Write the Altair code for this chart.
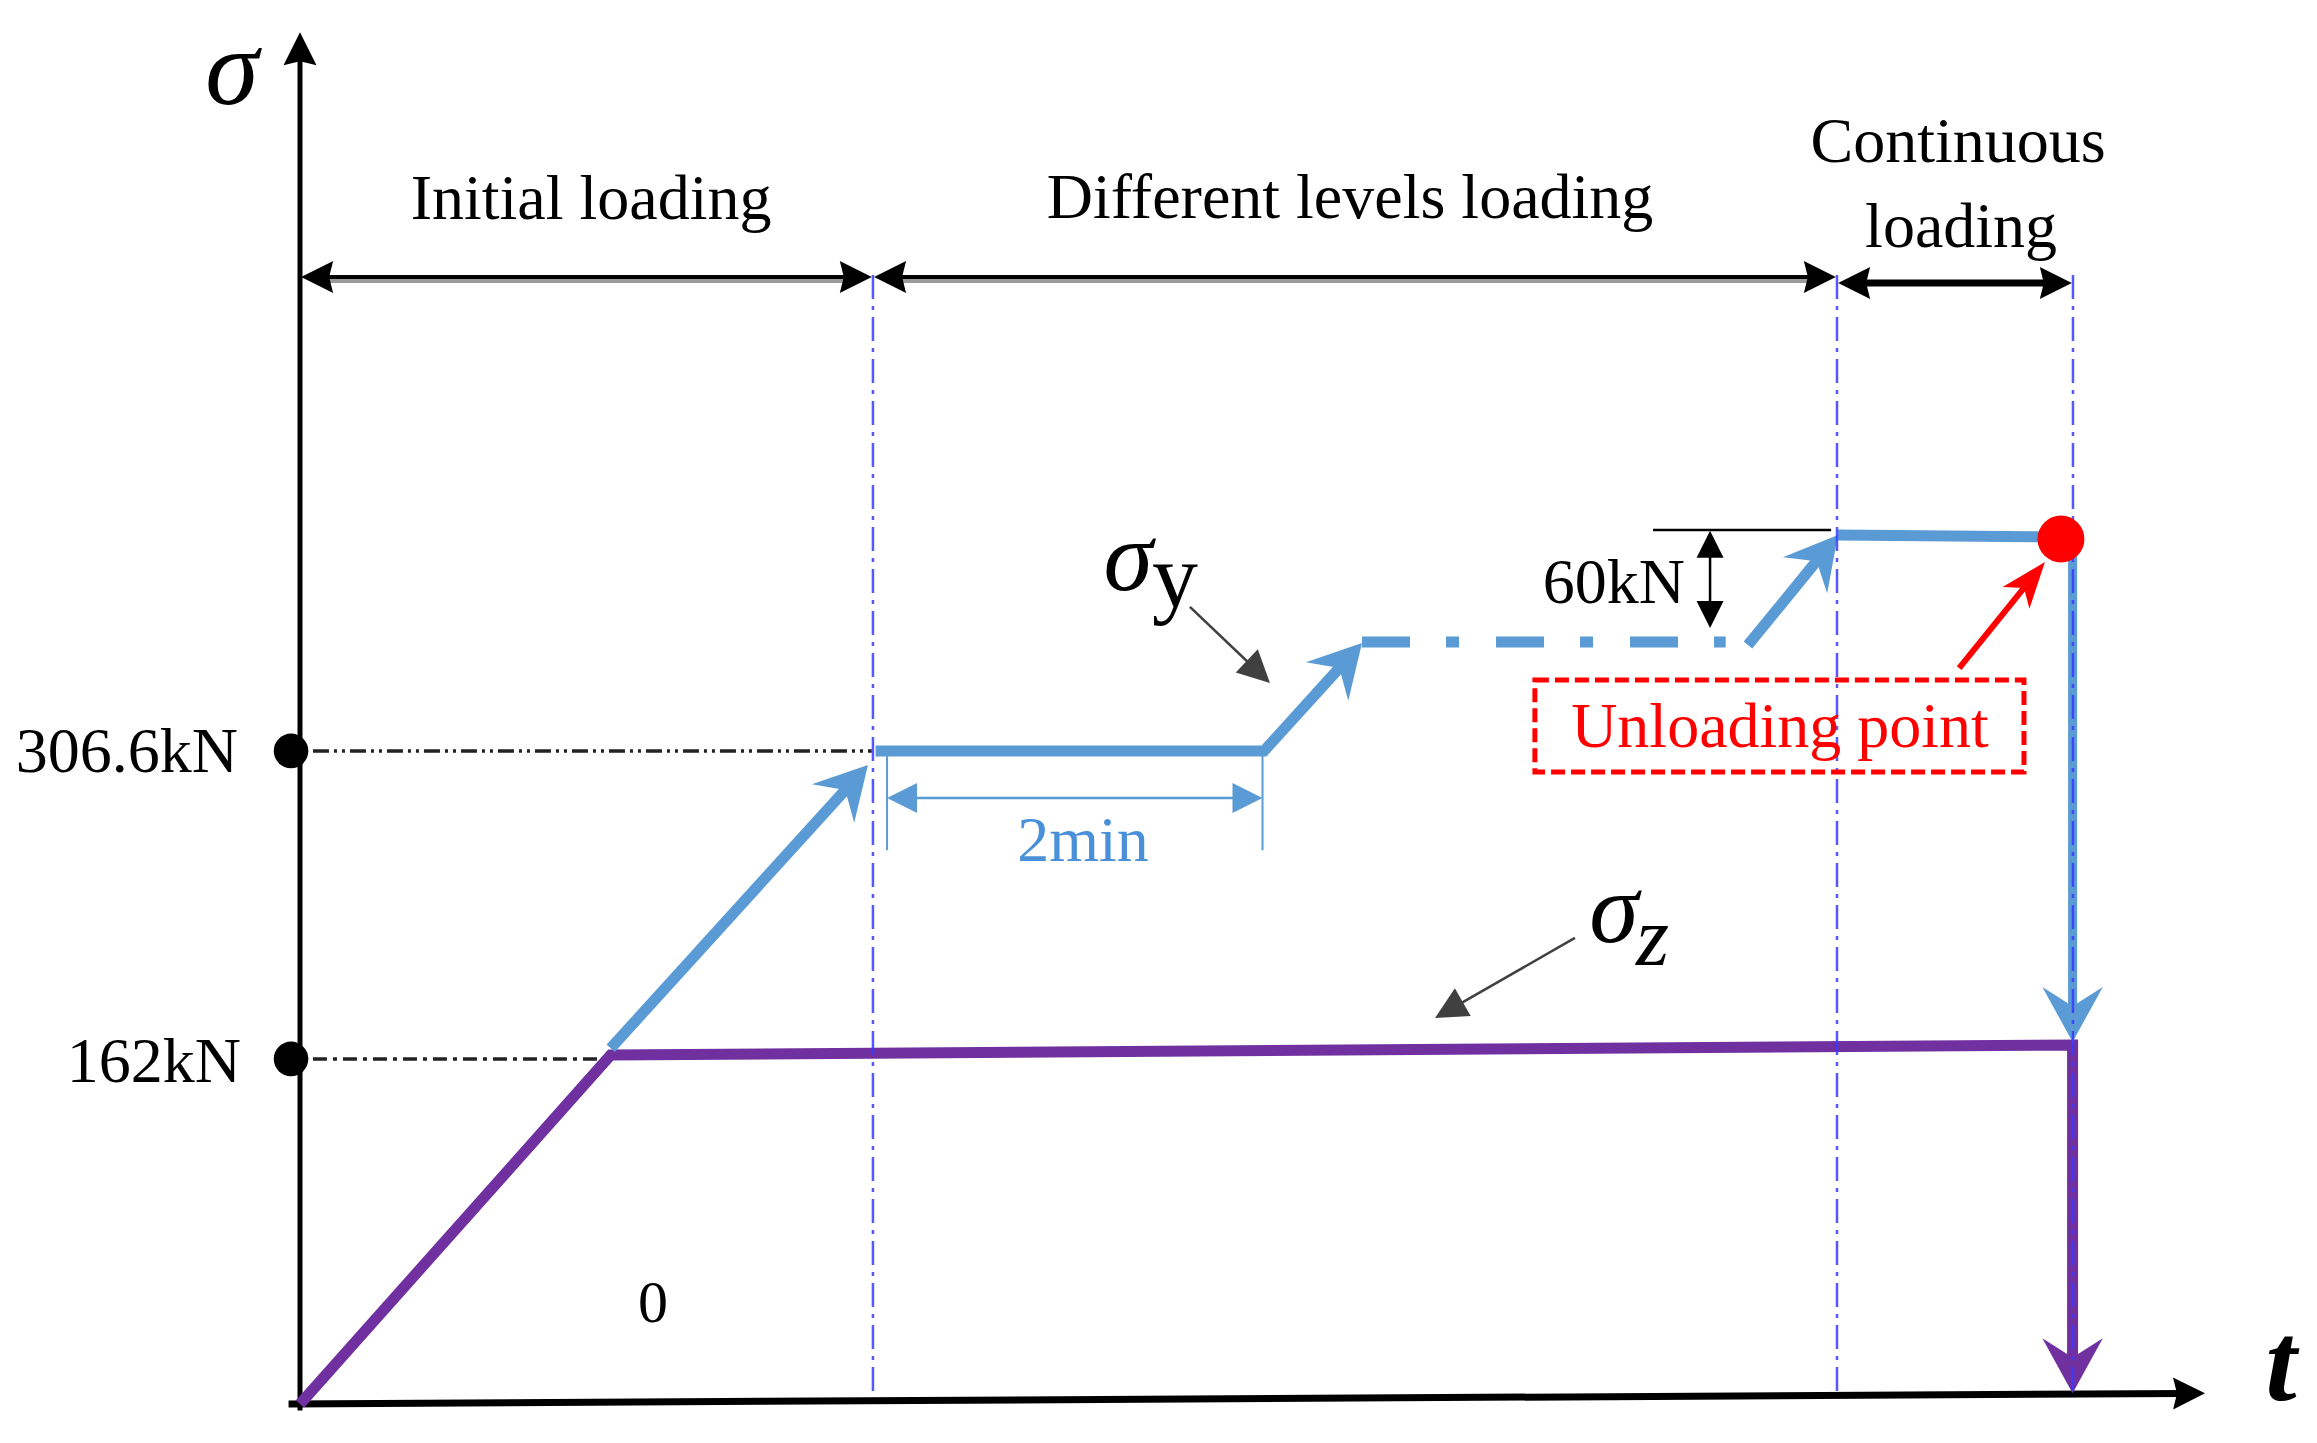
import math
import altair as alt
import pandas as pd

# ---------------- values ----------------
# time in minutes (the "2min" span is the unit), stress in kN
phase_bounds = [0.0, 3.006, 8.064, 9.302]
tick_values = [306.6, 162.0]
tick_labels = ["306.6kN", "162kN"]

sz_t = [0.0, 1.63, 9.30, 9.30]          # sigma_z path
sz_s = [0.0, 163.8, 168.5, 5.0]

sy1_t = [1.63, 2.98];          sy1_s = [167.0, 300.0]      # sigma_y ramp 1
sy2_t = [3.02, 5.058, 5.572];  sy2_s = [306.6, 306.6, 357.3]
syd_t = [5.572, 7.48];         syd_s = [357.7, 357.7]      # dash-dot part
sy3_t = [7.597, 8.069];        sy3_s = [356.3, 408.0]
sy4_t = [8.069, 9.239];        sy4_s = [408.0, 407.0]
sy5_t = [9.30, 9.30];          sy5_s = [406.0, 170.0]      # unloading

unload_t, unload_s = 9.239, 406.1
two_min_t = [3.08, 5.05];  two_min_s = 284.5
step_t = 7.398;  step_s = [410.0, 364.3]

# ---------------- layout ----------------
W, H = 2300, 1420
PX_T = 190.6
PX_S = 2.13
T0 = -292 / PX_T
T1 = T0 + W / PX_T
S1 = 1396 / PX_S
S0 = S1 - H / PX_S

XS = alt.Scale(domain=[T0, T1], nice=False, zero=False)
YS = alt.Scale(domain=[S0, S1], nice=False, zero=False)

BLUE = "#5B9BD5"
PURPLE = "#7030A0"
RED = "#FF0000"
FONT = "Liberation Serif"

STEALTH = "M0,0L1.1,2L0,1.3L-1.1,2Z"
NARROW = "M0,0L0.75,2L0,1.45L-0.75,2Z"
BLACKHEAD = "M0,0L1,2L0,1.75L-1,2Z"
TRI = "M0,0L1,2L-1,2Z"


def X(f="t"):
    return alt.X(f"{f}:Q", scale=XS, axis=None)


def Y(f="s"):
    return alt.Y(f"{f}:Q", scale=YS, axis=None)


def ang(ta, sa, tb, sb):
    dx = (tb - ta) * PX_T
    dy = -(sb - sa) * PX_S
    return math.degrees(math.atan2(dx, -dy)) % 360


def back(ta, sa, tb, sb, px):
    dx = (tb - ta) * PX_T
    dy = (sb - sa) * PX_S
    f = px / math.hypot(dx, dy)
    return tb - (tb - ta) * f, sb - (sb - sa) * f


def poly(ts, ss, color, width, dash=None, cap="butt", opacity=1.0):
    df = pd.DataFrame({"t": ts, "s": ss, "i": list(range(len(ts)))})
    kw = dict(color=color, strokeWidth=width, strokeCap=cap, strokeJoin="miter",
              opacity=opacity)
    if dash:
        kw["strokeDash"] = dash
    return alt.Chart(df).mark_line(**kw).encode(x=X(), y=Y(), order="i:Q")


def heads(items, shape, color):
    rows = [{"t": a, "s": b, "ang": ang(c, d, a, b), "sz": L * L} for a, b, c, d, L in items]
    return alt.Chart(pd.DataFrame(rows)).mark_point(
        shape=shape, filled=True, color=color, opacity=1, strokeWidth=0
    ).encode(x=X(), y=Y(), angle=alt.Angle("ang:Q", scale=None),
             size=alt.Size("sz:Q", scale=None))


def label(text, t, s, size, color="black", align="center", style="normal",
          weight="normal", font=FONT):
    df = pd.DataFrame({"t": [t], "s": [s], "txt": [text]})
    return alt.Chart(df).mark_text(
        align=align, baseline="alphabetic", font=font, fontSize=size,
        fontStyle=style, fontWeight=weight, color=color
    ).encode(x=X(), y=Y(), text="txt:N")


layers = []

# dash-dot guides from the level markers
layers.append(poly([0.068, 3.0], [306.6, 306.6], "#222222", 3.5, dash=[16, 5, 3, 5, 3, 5]))
layers.append(poly([0.068, 1.59], [162.0, 162.0], "#222222", 3.5, dash=[14, 6, 4, 6]))

# axes
ax_tip_t, ax_tip_s = 9.995, 5.0
bt, bs = back(-0.06, 0.0, ax_tip_t, ax_tip_s, 20)
layers.append(poly([-0.06, bt], [0.0, bs], "black", 7))
yt, ys = back(0.0, -3.0, 0.0, 644.0, 20)
layers.append(poly([0.0, yt], [-3.0, ys], "black", 5))
layers.append(heads([(ax_tip_t, ax_tip_s, -0.06, 0.0, 32), (0.0, 644.0, 0.0, -3.0, 33)],
                    BLACKHEAD, "black"))

# phase double arrows on top
top_s = [529.1, 529.1, 526.3]
top_w = [4, 4, 7]
top_items = []
for k in range(3):
    a, b = phase_bounds[k] + 0.006, phase_bounds[k + 1] - 0.006
    s = top_s[k]
    a2, _ = back(b, s, a, s, 20)
    b2, _ = back(a, s, b, s, 20)
    if k < 2:
        layers.append(poly([a2, b2], [s - 1.6, s - 1.6], "#9a9a9a", 5))
    layers.append(poly([a2, b2], [s, s], "black", top_w[k]))
    top_items += [(a, s, b, s, 32), (b, s, a, s, 32)]
layers.append(heads(top_items, BLACKHEAD, "black"))

# sigma_z path (purple)
pt, ps = back(sz_t[2], sz_s[2], sz_t[3], sz_s[3], 25)
layers.append(poly(sz_t[:3] + [pt], sz_s[:3] + [ps], PURPLE, 11))
layers.append(heads([(sz_t[3], sz_s[3], sz_t[2], sz_s[2], 55)], STEALTH, PURPLE))

# sigma_y path (blue)
a1t, a1s = back(sy1_t[0], sy1_s[0], sy1_t[1], sy1_s[1], 25)
layers.append(poly([sy1_t[0], a1t], [sy1_s[0], a1s], BLUE, 11))
a2t, a2s = back(sy2_t[1], sy2_s[1], sy2_t[2], sy2_s[2], 25)
layers.append(poly(sy2_t[:2] + [a2t], sy2_s[:2] + [a2s], BLUE, 11))
layers.append(poly(syd_t, syd_s, BLUE, 11, dash=[48, 36, 13, 37]))
a3t, a3s = back(sy3_t[0], sy3_s[0], sy3_t[1], sy3_s[1], 25)
layers.append(poly([sy3_t[0], a3t], [sy3_s[0], a3s], BLUE, 11))
layers.append(poly(sy4_t, sy4_s, BLUE, 11))
a5t, a5s = back(sy5_t[0], sy5_s[0], sy5_t[1], sy5_s[1], 25)
layers.append(poly([sy5_t[0], a5t], [sy5_s[0], a5s], BLUE, 9))
layers.append(heads([
    (sy1_t[1], sy1_s[1], sy1_t[0], sy1_s[0], 52),
    (sy2_t[2], sy2_s[2], sy2_t[1], sy2_s[1], 52),
    (sy3_t[1], sy3_s[1], sy3_t[0], sy3_s[0], 52),
    (sy5_t[1], sy5_s[1], sy5_t[0], sy5_s[0], 55),
], STEALTH, BLUE))

# phase borders (blue dash-dot)
for tb in phase_bounds[1:]:
    layers.append(poly([tb, tb], [530.0, 3.0], "#3a3aff", 2.5, dash=[24, 7, 4, 7], opacity=0.85))

# 2 min dimension
for tv in two_min_t:
    layers.append(poly([tv, tv], [305.0, 260.0], BLUE, 2))
l2a, _ = back(two_min_t[1], two_min_s, two_min_t[0], two_min_s, 15)
l2b, _ = back(two_min_t[0], two_min_s, two_min_t[1], two_min_s, 15)
layers.append(poly([l2a, l2b], [two_min_s, two_min_s], BLUE, 2.5))
layers.append(heads([(two_min_t[0], two_min_s, two_min_t[1], two_min_s, 30),
                     (two_min_t[1], two_min_s, two_min_t[0], two_min_s, 30)], TRI, BLUE))

# 60 kN dimension
layers.append(poly([7.099, 8.033], [410.3, 410.3], "black", 2.5))
_, sa = back(step_t, step_s[1], step_t, step_s[0], 15)
_, sb = back(step_t, step_s[0], step_t, step_s[1], 15)
layers.append(poly([step_t, step_t], [sa, sb], "black", 2.5))
layers.append(heads([(step_t, step_s[0], step_t, step_s[1], 27),
                     (step_t, step_s[1], step_t, step_s[0], 27)], TRI, "black"))

# pointers to sigma_y and sigma_z
pointers = [(4.669, 374.2, 5.089, 338.5), (6.689, 218.8, 5.955, 181.2)]
for ta, sa_, tb, sb_ in pointers:
    et, es = back(ta, sa_, tb, sb_, 20)
    layers.append(poly([ta, et], [sa_, es], "#404040", 2.5))
layers.append(heads([(tb, sb_, ta, sa_, 32) for ta, sa_, tb, sb_ in pointers], TRI, "#404040"))

# level markers
layers.append(alt.Chart(pd.DataFrame({"t": [-0.047, -0.047], "s": tick_values})).mark_point(
    shape="circle", filled=True, color="black", size=1200, opacity=1).encode(x=X(), y=Y()))

# unloading point
layers.append(alt.Chart(pd.DataFrame({"t": [unload_t], "s": [unload_s]})).mark_point(
    shape="circle", filled=True, color=RED, size=2206, opacity=1).encode(x=X(), y=Y()))
rt, rs = back(8.705, 345.5, 9.155, 395.3, 25)
layers.append(poly([8.705, rt], [345.5, rs], RED, 6))
layers.append(heads([(9.155, 395.3, 8.705, 345.5, 46)], NARROW, RED))
layers.append(alt.Chart(pd.DataFrame({"t": [6.479], "t2": [9.045], "s": [296.7], "s2": [339.9]}))
              .mark_rect(fill="white", fillOpacity=0, stroke=RED, strokeWidth=5,
                         strokeDash=[14, 6])
              .encode(x=X(), x2="t2:Q", y=Y(), y2="s2:Q"))

# texts
layers += [
    label("Initial loading", 1.527, 556.3, 64),
    label("Different levels loading", 5.509, 556.8, 64),
    label("Continuous", 8.699, 583.1, 64),
    label("loading", 8.715, 543.2, 64),
    label(tick_labels[0], -0.325, 296.7, 64, align="right"),
    label(tick_labels[1], -0.31, 151.2, 64, align="right"),
    label("0", 1.852, 38.5, 60),
    label("2min", 4.108, 254.7, 64, color="#4A90D9"),
    label("60kN", 7.267, 376.0, 64, align="right"),
    label("Unloading point", 7.765, 308.5, 64, color=RED),
    label("σ", -0.357, 610.3, 108, style="italic"),
    label("t", 10.394, 1.9, 112, style="italic", weight="bold"),
    label("σ", 4.345, 382.2, 100, style="italic"),
    label("y", 4.47, 374.2, 92, align="left"),
    label("σ", 6.894, 216.9, 100, style="italic"),
    label("z", 7.01, 206.1, 85, align="left", style="italic"),
]

chart = alt.layer(*layers).properties(
    width=W, height=H, padding=0, background="white",
    autosize=alt.AutoSizeParams(type="none"),
).configure_view(strokeWidth=0)

chart.save("out.html", embed_options={"renderer": "svg", "actions": False})
